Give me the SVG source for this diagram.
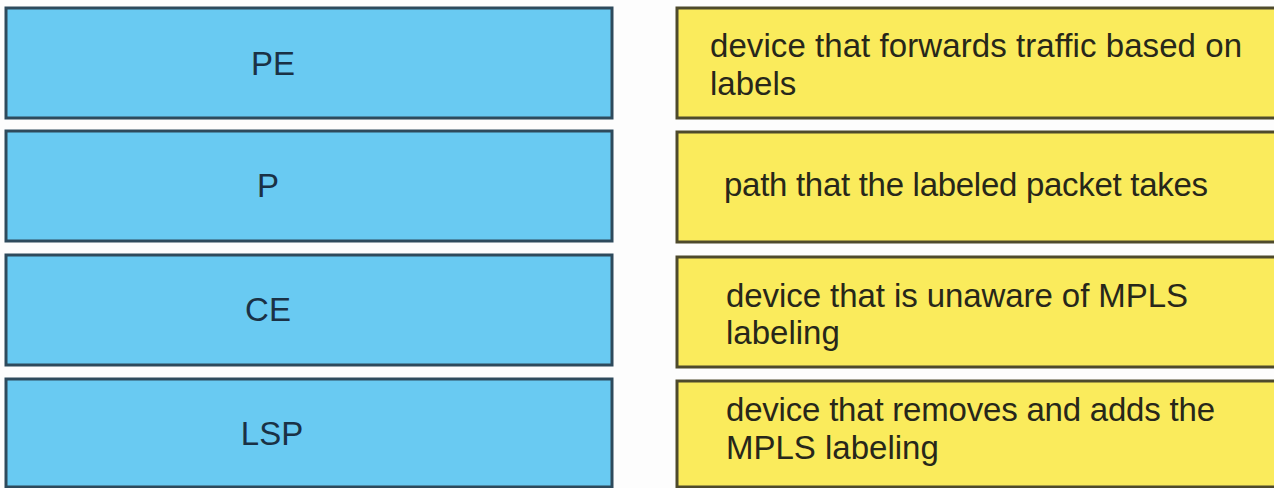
<svg xmlns="http://www.w3.org/2000/svg" width="1274" height="488" viewBox="0 0 1274 488">
<style>
.bg{fill:#fdfdfd}
.term rect{fill:#69caf2;stroke:#2e4a5c;stroke-width:3}
.term text{font-family:"Liberation Sans",Arial,sans-serif;font-size:33px;fill:#1a3145;text-anchor:middle}
.def rect{fill:#faeb5c;stroke:#4e4a2c;stroke-width:3}
.def text{font-family:"Liberation Sans",Arial,sans-serif;font-size:33px;fill:#27271a}
</style>
<rect class="bg" x="0" y="0" width="1274" height="488"/>
<g id="term-PE" class="term">
<rect x="6" y="8" width="606" height="110"/>
<text x="273" y="75">PE</text>
</g>
<g id="term-P" class="term">
<rect x="6" y="131" width="606" height="110"/>
<text x="268" y="197">P</text>
</g>
<g id="term-CE" class="term">
<rect x="6" y="255" width="606" height="110"/>
<text x="268" y="321">CE</text>
</g>
<g id="term-LSP" class="term">
<rect x="6" y="379" width="606" height="108"/>
<text x="272" y="445">LSP</text>
</g>
<g id="def-1" class="def">
<rect x="677" y="8" width="600" height="110"/>
<text x="710" y="57" textLength="532">device that forwards traffic based on</text>
<text x="710" y="95">labels</text>
</g>
<g id="def-2" class="def">
<rect x="677" y="132" width="600" height="110"/>
<text x="724" y="196" textLength="484">path that the labeled packet takes</text>
</g>
<g id="def-3" class="def">
<rect x="677" y="257" width="600" height="110"/>
<text x="726" y="307" textLength="462">device that is unaware of MPLS</text>
<text x="726" y="344">labeling</text>
</g>
<g id="def-4" class="def">
<rect x="677" y="381" width="600" height="106"/>
<text x="726" y="421" textLength="489">device that removes and adds the</text>
<text x="726" y="459">MPLS labeling</text>
</g>
<g id="connectors"></g>
</svg>
